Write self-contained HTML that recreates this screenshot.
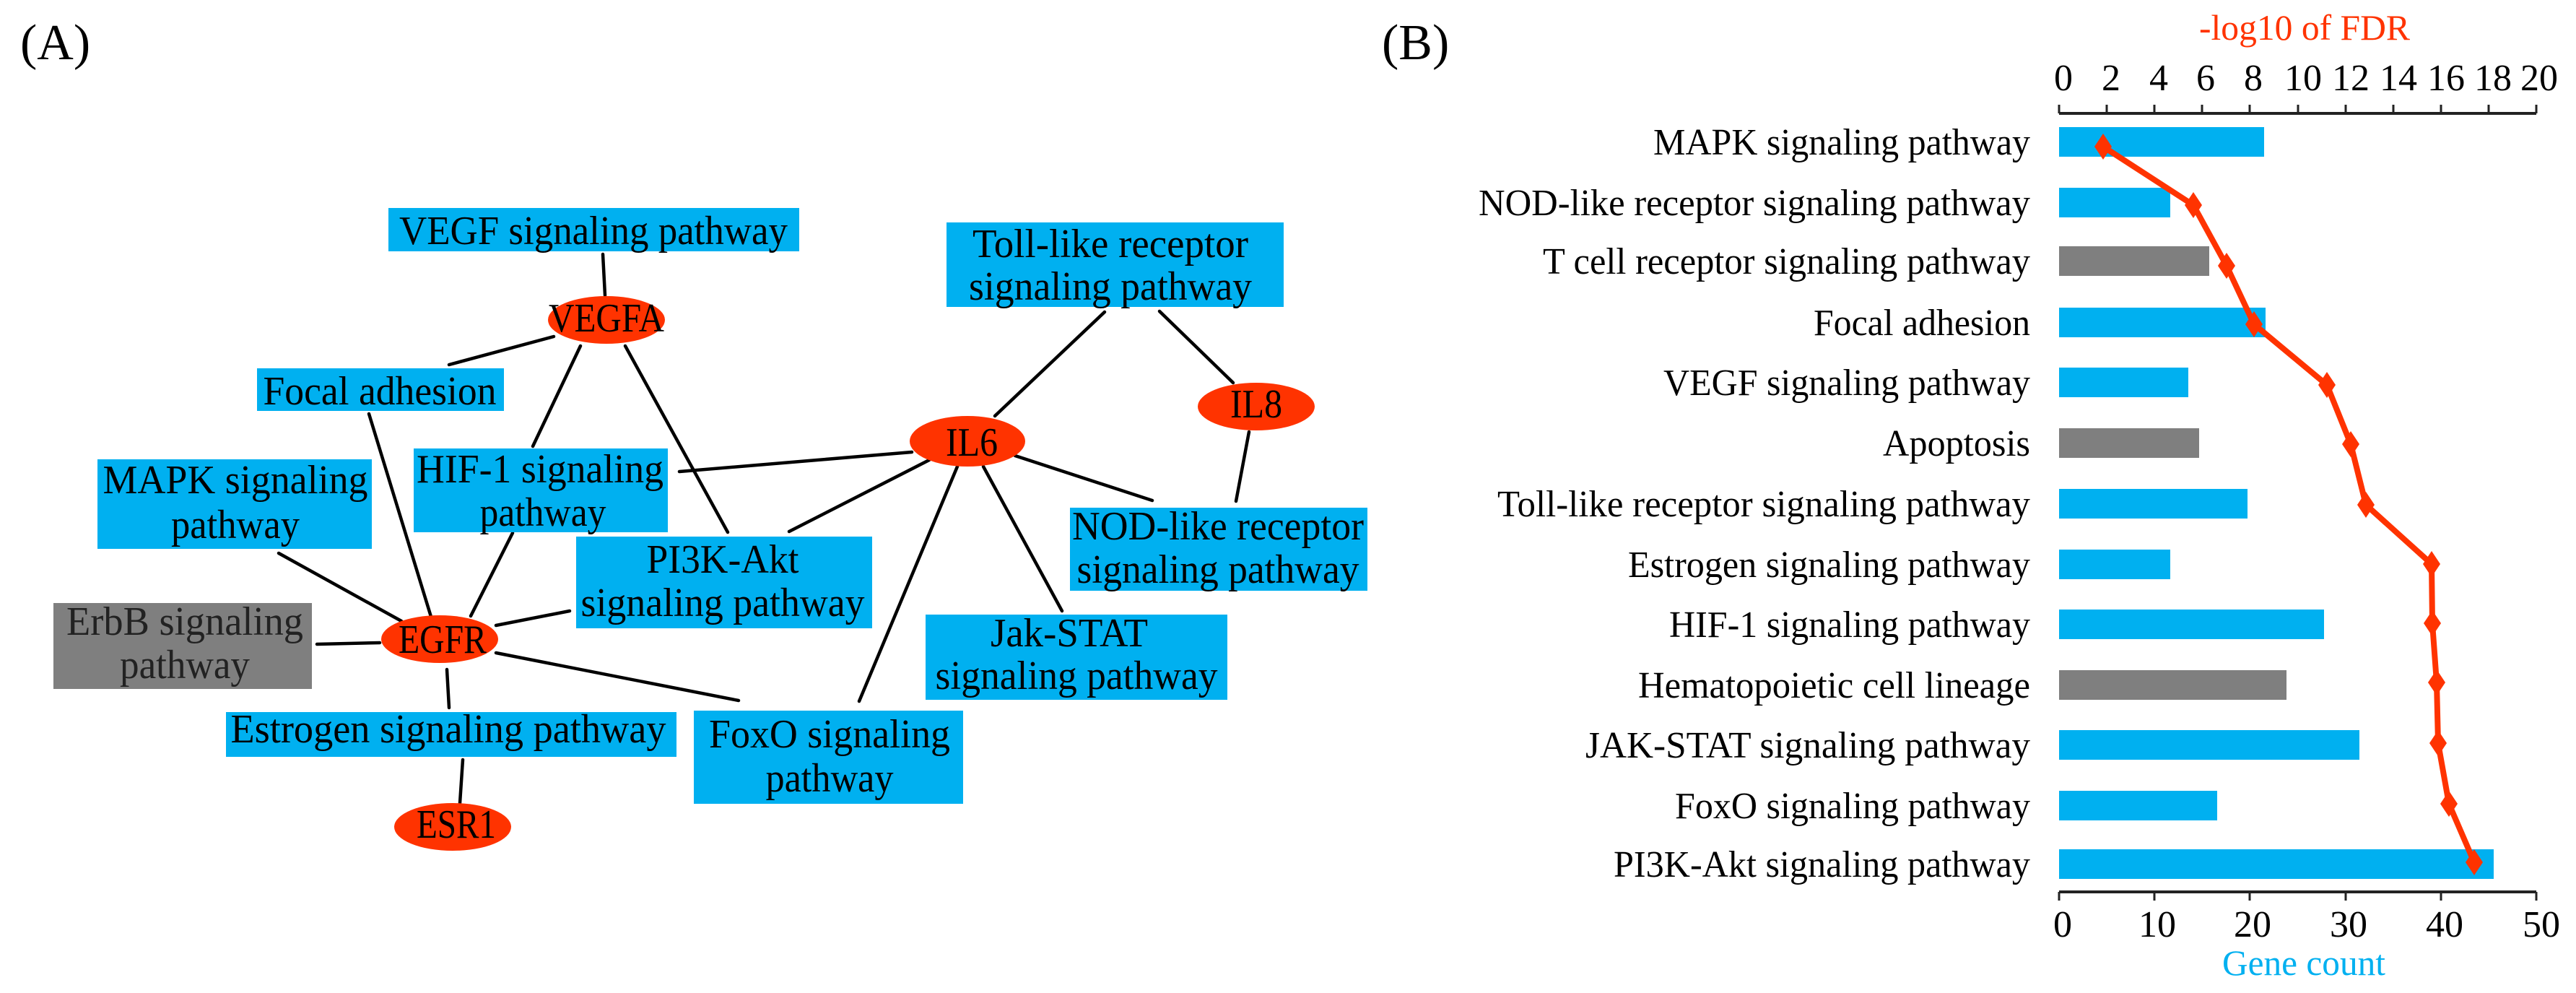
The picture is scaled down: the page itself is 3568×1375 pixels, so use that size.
<!DOCTYPE html>
<html><head><meta charset="utf-8"><style>html,body{margin:0;padding:0;background:#fff}svg{display:block}svg text{font-family:"Liberation Serif","Times New Roman",serif}</style></head>
<body>
<svg width="3568" height="1375" viewBox="0 0 3568 1375" xmlns="http://www.w3.org/2000/svg" style="font-family:'Liberation Serif',serif">
<rect width="3568" height="1375" fill="#fff"/>
<text x="28" y="82" font-size="70">(A)</text>
<text x="1914" y="82" font-size="70">(B)</text>
<g stroke="#000" stroke-width="4.5" stroke-linecap="round">
<line x1="835" y1="352" x2="838" y2="409"/>
<line x1="767" y1="466" x2="622" y2="505"/>
<line x1="804" y1="479" x2="738" y2="618"/>
<line x1="866" y1="479" x2="1008" y2="737"/>
<line x1="511" y1="573" x2="597" y2="854"/>
<line x1="710" y1="738" x2="652" y2="853"/>
<line x1="386" y1="766" x2="556" y2="860"/>
<line x1="439" y1="892" x2="526" y2="890"/>
<line x1="789" y1="846" x2="687" y2="866"/>
<line x1="687" y1="904" x2="1023" y2="970"/>
<line x1="619" y1="927" x2="622" y2="980"/>
<line x1="641" y1="1052" x2="637" y2="1112"/>
<line x1="1263" y1="626" x2="941" y2="653"/>
<line x1="1287" y1="637" x2="1093" y2="736"/>
<line x1="1326" y1="646" x2="1190" y2="971"/>
<line x1="1362" y1="646" x2="1471" y2="846"/>
<line x1="1406" y1="631" x2="1596" y2="693"/>
<line x1="1378" y1="576" x2="1530" y2="432"/>
<line x1="1606" y1="431" x2="1708" y2="530"/>
<line x1="1730" y1="598" x2="1712" y2="694"/>
</g>
<g fill="#00B0F0">
<rect x="538" y="288" width="569" height="60"/>
<rect x="1311" y="308" width="467" height="117"/>
<rect x="356" y="510" width="342" height="59"/>
<rect x="135" y="636" width="380" height="124"/>
<rect x="573" y="621" width="352" height="116"/>
<rect x="798" y="743" width="410" height="127"/>
<rect x="1482" y="703" width="412" height="115"/>
<rect x="1282" y="851" width="418" height="118"/>
<rect x="313" y="986" width="624" height="62"/>
<rect x="961" y="984" width="373" height="129"/>
</g>
<rect x="74" y="835" width="358" height="119" fill="#7F7F7F"/>
<g fill="#FF3300">
<ellipse cx="840" cy="443" rx="81" ry="33"/>
<ellipse cx="1740" cy="563" rx="81" ry="33"/>
<ellipse cx="1340" cy="611" rx="80" ry="35"/>
<ellipse cx="609" cy="885" rx="81" ry="33"/>
<ellipse cx="627" cy="1145" rx="81" ry="33"/>
</g>
<g font-size="56" text-anchor="middle" fill="#000">
<text x="822" y="338" textLength="538" lengthAdjust="spacingAndGlyphs">VEGF signaling pathway</text>
<text x="1538" y="356" textLength="382" lengthAdjust="spacingAndGlyphs">Toll-like receptor</text>
<text x="1538" y="415" textLength="392" lengthAdjust="spacingAndGlyphs">signaling pathway</text>
<text x="526" y="560" textLength="323" lengthAdjust="spacingAndGlyphs">Focal adhesion</text>
<text x="326" y="683" textLength="367" lengthAdjust="spacingAndGlyphs">MAPK signaling</text>
<text x="326" y="745" textLength="178" lengthAdjust="spacingAndGlyphs">pathway</text>
<text x="748" y="668" textLength="342" lengthAdjust="spacingAndGlyphs">HIF-1 signaling</text>
<text x="752" y="728" textLength="175" lengthAdjust="spacingAndGlyphs">pathway</text>
<text x="1001" y="793" textLength="211" lengthAdjust="spacingAndGlyphs">PI3K-Akt</text>
<text x="1001" y="853" textLength="393" lengthAdjust="spacingAndGlyphs">signaling pathway</text>
<text x="1687" y="747" textLength="404" lengthAdjust="spacingAndGlyphs">NOD-like receptor</text>
<text x="1687" y="807" textLength="391" lengthAdjust="spacingAndGlyphs">signaling pathway</text>
<text x="1481" y="895" textLength="218" lengthAdjust="spacingAndGlyphs">Jak-STAT</text>
<text x="1491" y="954" textLength="391" lengthAdjust="spacingAndGlyphs">signaling pathway</text>
<text x="256" y="879" textLength="328" lengthAdjust="spacingAndGlyphs" fill="#222">ErbB signaling</text>
<text x="256" y="939" textLength="180" lengthAdjust="spacingAndGlyphs" fill="#222">pathway</text>
<text x="621" y="1028" textLength="603" lengthAdjust="spacingAndGlyphs">Estrogen signaling pathway</text>
<text x="1149" y="1035" textLength="334" lengthAdjust="spacingAndGlyphs">FoxO signaling</text>
<text x="1149" y="1096" textLength="177" lengthAdjust="spacingAndGlyphs">pathway</text>
<text x="840" y="459" textLength="160" lengthAdjust="spacingAndGlyphs">VEGFA</text>
<text x="1346" y="631" textLength="72" lengthAdjust="spacingAndGlyphs">IL6</text>
<text x="1740" y="578" textLength="72" lengthAdjust="spacingAndGlyphs">IL8</text>
<text x="613" y="904" textLength="122" lengthAdjust="spacingAndGlyphs">EGFR</text>
<text x="632" y="1160" textLength="110" lengthAdjust="spacingAndGlyphs">ESR1</text>
</g>
<text x="3192" y="55" font-size="50" fill="#FF3300" text-anchor="middle" textLength="292" lengthAdjust="spacingAndGlyphs">-log10 of FDR</text>
<g stroke="#222" stroke-width="4" fill="none">
<line x1="2852" y1="157" x2="3513" y2="157"/>
<line x1="2852" y1="1235" x2="3513" y2="1235"/>
</g>
<g stroke="#222" stroke-width="3">
<line x1="2852" y1="145" x2="2852" y2="157"/><line x1="2918" y1="145" x2="2918" y2="157"/><line x1="2984" y1="145" x2="2984" y2="157"/><line x1="3050" y1="145" x2="3050" y2="157"/><line x1="3116" y1="145" x2="3116" y2="157"/><line x1="3183" y1="145" x2="3183" y2="157"/><line x1="3249" y1="145" x2="3249" y2="157"/><line x1="3315" y1="145" x2="3315" y2="157"/><line x1="3381" y1="145" x2="3381" y2="157"/><line x1="3447" y1="145" x2="3447" y2="157"/><line x1="3513" y1="145" x2="3513" y2="157"/>
<line x1="2852" y1="1235" x2="2852" y2="1247"/><line x1="2984" y1="1235" x2="2984" y2="1247"/><line x1="3116" y1="1235" x2="3116" y2="1247"/><line x1="3249" y1="1235" x2="3249" y2="1247"/><line x1="3381" y1="1235" x2="3381" y2="1247"/><line x1="3513" y1="1235" x2="3513" y2="1247"/>
</g>
<g font-size="52" text-anchor="middle" fill="#000">
<text x="2858" y="125">0</text><text x="2924" y="125">2</text><text x="2990" y="125">4</text><text x="3055" y="125">6</text><text x="3121" y="125">8</text>
<text x="3190" y="125">10</text><text x="3256" y="125">12</text><text x="3322" y="125">14</text><text x="3388" y="125">16</text><text x="3453" y="125">18</text><text x="3517" y="125">20</text>
<text x="2857" y="1297">0</text><text x="2988" y="1297">10</text><text x="3120" y="1297">20</text><text x="3253" y="1297">30</text><text x="3386" y="1297">40</text><text x="3520" y="1297">50</text>
</g>
<text x="3191" y="1350" font-size="50" fill="#00B0F0" text-anchor="middle" textLength="226" lengthAdjust="spacingAndGlyphs">Gene count</text>
<g>
<rect x="2852" y="176" width="284" height="41" fill="#00B0F0"/>
<rect x="2852" y="260" width="154" height="41" fill="#00B0F0"/>
<rect x="2852" y="341" width="208" height="41" fill="#7F7F7F"/>
<rect x="2852" y="426" width="286" height="41" fill="#00B0F0"/>
<rect x="2852" y="509" width="179" height="41" fill="#00B0F0"/>
<rect x="2852" y="593" width="194" height="41" fill="#7F7F7F"/>
<rect x="2852" y="677" width="261" height="41" fill="#00B0F0"/>
<rect x="2852" y="761" width="154" height="41" fill="#00B0F0"/>
<rect x="2852" y="844" width="367" height="41" fill="#00B0F0"/>
<rect x="2852" y="928" width="315" height="41" fill="#7F7F7F"/>
<rect x="2852" y="1011" width="416" height="41" fill="#00B0F0"/>
<rect x="2852" y="1095" width="219" height="41" fill="#00B0F0"/>
<rect x="2852" y="1176" width="602" height="41" fill="#00B0F0"/>
</g>
<g font-size="52" text-anchor="end" fill="#000">
<text x="2812" y="214" textLength="522" lengthAdjust="spacingAndGlyphs">MAPK signaling pathway</text>
<text x="2812" y="298" textLength="764" lengthAdjust="spacingAndGlyphs">NOD-like receptor signaling pathway</text>
<text x="2812" y="379" textLength="675" lengthAdjust="spacingAndGlyphs">T cell receptor signaling pathway</text>
<text x="2812" y="464" textLength="300" lengthAdjust="spacingAndGlyphs">Focal adhesion</text>
<text x="2812" y="547" textLength="508" lengthAdjust="spacingAndGlyphs">VEGF signaling pathway</text>
<text x="2812" y="631" textLength="204" lengthAdjust="spacingAndGlyphs">Apoptosis</text>
<text x="2812" y="715" textLength="738" lengthAdjust="spacingAndGlyphs">Toll-like receptor signaling pathway</text>
<text x="2812" y="799" textLength="557" lengthAdjust="spacingAndGlyphs">Estrogen signaling pathway</text>
<text x="2812" y="882" textLength="500" lengthAdjust="spacingAndGlyphs">HIF-1 signaling pathway</text>
<text x="2812" y="966" textLength="543" lengthAdjust="spacingAndGlyphs">Hematopoietic cell lineage</text>
<text x="2812" y="1049" textLength="616" lengthAdjust="spacingAndGlyphs">JAK-STAT signaling pathway</text>
<text x="2812" y="1133" textLength="492" lengthAdjust="spacingAndGlyphs">FoxO signaling pathway</text>
<text x="2812" y="1214" textLength="577" lengthAdjust="spacingAndGlyphs">PI3K-Akt signaling pathway</text>
</g>
<polyline fill="none" stroke="#FF3300" stroke-width="8" stroke-linejoin="round" points="2913,203 3038,284 3084,368 3122,449 3223,533 3256,615 3277,699 3368,781 3369,863 3375,945 3377,1029 3392,1113 3427,1194"/>
<g fill="#FF3300">
<path d="M2913,185 l12,18 l-12,18 l-12,-18z"/>
<path d="M3038,266 l12,18 l-12,18 l-12,-18z"/>
<path d="M3084,350 l12,18 l-12,18 l-12,-18z"/>
<path d="M3122,431 l12,18 l-12,18 l-12,-18z"/>
<path d="M3223,515 l12,18 l-12,18 l-12,-18z"/>
<path d="M3256,597 l12,18 l-12,18 l-12,-18z"/>
<path d="M3277,681 l12,18 l-12,18 l-12,-18z"/>
<path d="M3368,763 l12,18 l-12,18 l-12,-18z"/>
<path d="M3369,845 l12,18 l-12,18 l-12,-18z"/>
<path d="M3375,927 l12,18 l-12,18 l-12,-18z"/>
<path d="M3377,1011 l12,18 l-12,18 l-12,-18z"/>
<path d="M3392,1095 l12,18 l-12,18 l-12,-18z"/>
<path d="M3427,1176 l12,18 l-12,18 l-12,-18z"/>
</g>
</svg>
</body></html>
